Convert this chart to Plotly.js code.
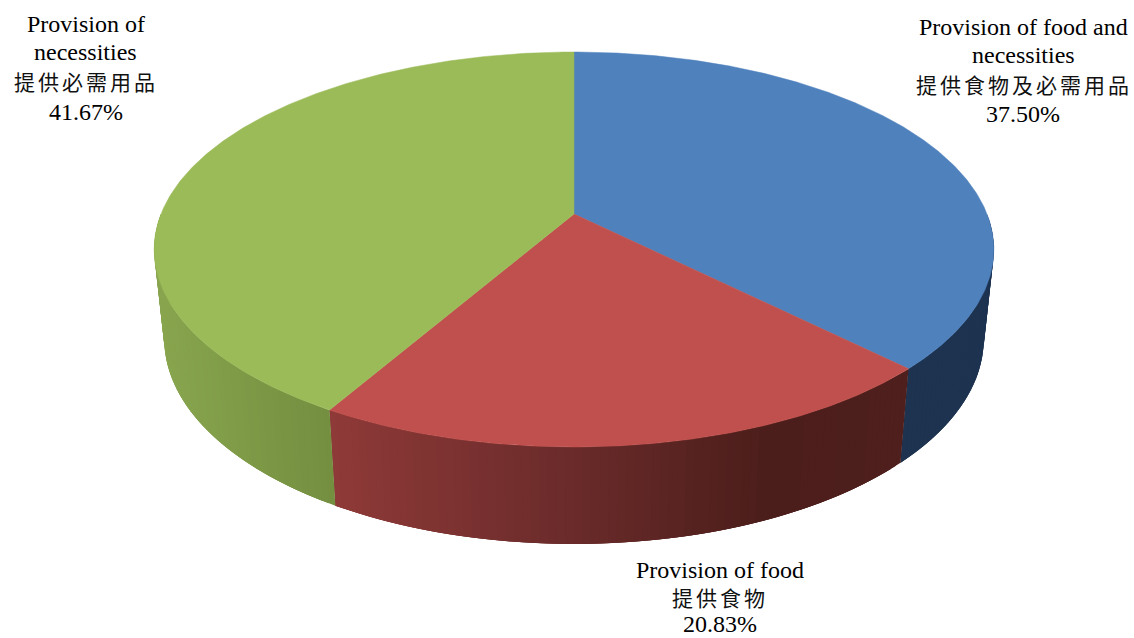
<!DOCTYPE html>
<html>
<head>
<meta charset="utf-8">
<script src="https://cdn.plot.ly/plotly-3.0.1.min.js"></script>
<style>html,body{margin:0;padding:0;background:#fff}#chart{width:1134px;height:638px}</style>
</head>
<body>
<div id="chart"></div>
<script>
// ---- data ----
const categories = ["Provision of food and necessities", "Provision of food", "Provision of necessities"];
const categoriesZh = ["提供食物及必需用品", "提供食物", "提供必需用品"];
const shares = [37.50, 20.83, 41.67];
const topColors = ["#4F81BD", "#C0504D", "#9BBB59"];
// wall shade: [screen x, colour] stops per slice
const wallStops = [
  [[800, [29, 51, 80]], [1000, [29, 51, 80]]],
  [[330, [143, 58, 56]], [560, [108, 44, 43]], [770, [76, 30, 27]], [910, [78, 31, 28]]],
  [[150, [137, 166, 79]], [330, [116, 143, 64]]]
];
const labelLines = [
  {x: [1023, 1023, 1024, 1023], y: [27, 55, 84, 114]},
  {x: [719.5, 720, 719.5], y: [570, 597, 624]},
  {x: [85.5, 85.5, 86, 85.5], y: [24, 52, 81, 112]}
];
const labelSplit = [["Provision of food and", "necessities"], ["Provision of food"], ["Provision of", "necessities"]];

// ---- tilted-disc projection (pie angle -> chart position) ----
const CX = 574, PERSP = 0.1797, RX = 413, YC = 214, YB = -152.65, BOTTOM_SCALE = 0.976;
function topPt(t) {
  const d = 1 + PERSP * Math.cos(t);
  return [CX + RX * Math.sin(t) / d, (YC + YB * Math.cos(t)) / d];
}
function botPt(t) {
  const p = topPt(t);
  return [CX + BOTTOM_SCALE * (p[0] - CX), p[1] + 97 + 0.038 * (p[1] - 447)];
}
function shade(stops, x) {
  if (x <= stops[0][0]) return stops[0][1];
  for (let i = 1; i < stops.length; i++) {
    if (x <= stops[i][0]) {
      const a = stops[i - 1], b = stops[i];
      const f = (x - a[0]) / (b[0] - a[0]);
      return a[1].map((v, k) => v + f * (b[1][k] - v));
    }
  }
  return stops[stops.length - 1][1];
}
const rgb = c => `rgb(${c.map(Math.round).join(",")})`;

const total = shares.reduce((a, b) => a + b, 0);
const traces = [];
const tops = [];
let acc = 0;
const STEP = Math.PI / 180, OVERLAP = 3;
shares.forEach((v, i) => {
  const a0 = acc / total * 2 * Math.PI;
  acc += v;
  const a1 = acc / total * 2 * Math.PI;
  // wall: only the front half of the rim is visible; overlapping bands hide seams
  const w0 = Math.max(a0, Math.PI * 0.5), w1 = Math.min(a1, Math.PI * 1.5);
  for (let t = w0; t < w1 - 1e-9; t += STEP) {
    const e = Math.min(t + OVERLAP * STEP, w1);
    const xs = [], ys = [];
    for (let k = 0; k <= OVERLAP; k++) {
      const p = topPt(t + (e - t) * k / OVERLAP); xs.push(p[0]); ys.push(p[1]);
    }
    for (let k = OVERLAP; k >= 0; k--) {
      const p = botPt(t + (e - t) * k / OVERLAP); xs.push(p[0]); ys.push(p[1]);
    }
    xs.push(xs[0]); ys.push(ys[0]);
    const col = rgb(shade(wallStops[i], topPt(t)[0]));
    traces.push({
      type: "scatter", mode: "lines", fill: "toself", fillcolor: col, hoverinfo: "skip",
      line: {color: col, width: 0}, x: xs, y: ys
    });
  }
  // top face
  const xs = [CX], ys = [YC];
  for (let t = a0; t < a1; t += STEP / 2) { const p = topPt(t); xs.push(p[0]); ys.push(p[1]); }
  const p = topPt(a1); xs.push(p[0], CX); ys.push(p[1], YC);
  tops.push({
    type: "scatter", mode: "lines", fill: "toself", fillcolor: topColors[i], hoverinfo: "text",
    text: `${categories[i]} ${v.toFixed(2)}%`,
    line: {color: topColors[i], width: 0.5}, x: xs, y: ys
  });
});

// ---- labels ----
const annotations = [];
const textFont = {family: "Liberation Serif, Times New Roman, serif", size: 24, color: "#000"};
const zhFont = {family: "Noto Sans CJK TC, serif", size: 21, color: "#111"};
shares.forEach((v, i) => {
  const L = labelLines[i];
  const lines = labelSplit[i];
  const all = lines.concat([categoriesZh[i], v.toFixed(2) + "%"]);
  all.forEach((s, k) => {
    const zh = k === lines.length;
    annotations.push({
      x: L.x[k], y: L.y[k], xref: "x", yref: "y", showarrow: false,
      xanchor: "center", yanchor: "middle",
      text: zh ? `<span style="letter-spacing:3px">${s}</span>` : s,
      font: zh ? zhFont : textFont
    });
  });
});

Plotly.newPlot("chart", traces.concat(tops), {
  width: 1134, height: 638, showlegend: false,
  margin: {l: 0, r: 0, t: 0, b: 0},
  paper_bgcolor: "#fff", plot_bgcolor: "#fff",
  xaxis: {range: [0, 1134], visible: false, fixedrange: true},
  yaxis: {range: [638, 0], visible: false, fixedrange: true},
  annotations: annotations
}, {displayModeBar: false, staticPlot: true});
</script>
</body>
</html>
